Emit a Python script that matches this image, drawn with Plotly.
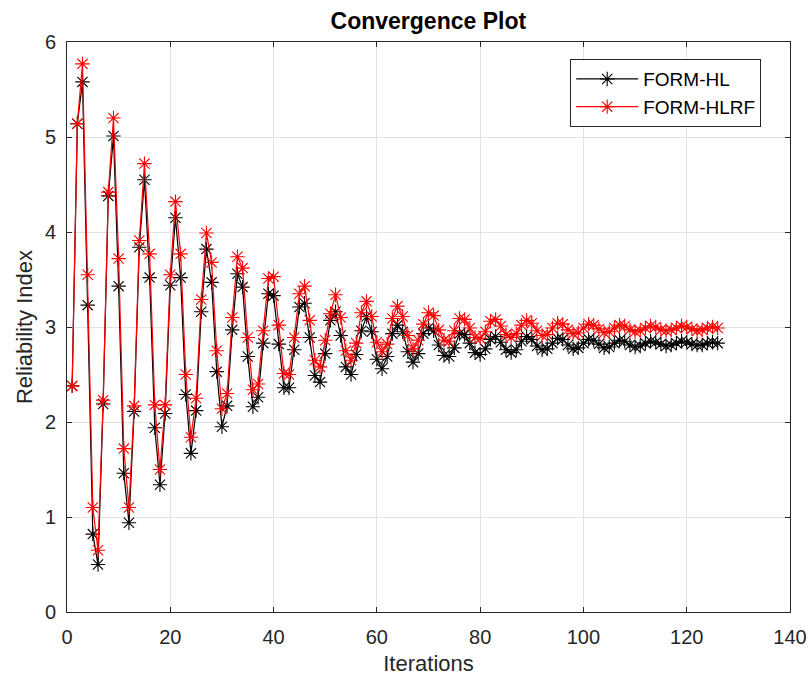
import plotly.graph_objects as go

iterations = list(range(1, 127))

form_hl = [
    2.38, 5.14, 5.58, 3.23, 0.82, 0.50, 2.19, 4.38, 5.01, 3.43,
    1.46, 0.94, 2.11, 3.84, 4.55, 3.52, 1.94, 1.34, 2.09, 3.44,
    4.15, 3.52, 2.29, 1.67, 2.12, 3.16, 3.82, 3.47, 2.53, 1.95,
    2.17, 2.97, 3.56, 3.42, 2.69, 2.16, 2.26, 2.83, 3.35, 3.33,
    2.82, 2.36, 2.36, 2.76, 3.21, 3.25, 2.89, 2.49, 2.42, 2.72,
    3.07, 3.16, 2.91, 2.58, 2.50, 2.71, 2.96, 3.11, 2.95, 2.66,
    2.56, 2.69, 2.93, 3.02, 2.95, 2.74, 2.63, 2.72, 2.93, 2.99,
    2.96, 2.81, 2.70, 2.69, 2.78, 2.93, 2.92, 2.83, 2.73, 2.71,
    2.77, 2.87, 2.90, 2.84, 2.76, 2.73, 2.76, 2.85, 2.90, 2.87,
    2.80, 2.76, 2.77, 2.83, 2.88, 2.87, 2.81, 2.77, 2.78, 2.83,
    2.87, 2.86, 2.82, 2.78, 2.79, 2.83, 2.86, 2.85, 2.81, 2.79,
    2.80, 2.83, 2.85, 2.84, 2.82, 2.80, 2.81, 2.83, 2.85, 2.84,
    2.82, 2.81, 2.81, 2.83, 2.84, 2.83,
]

form_hlrf = [
    2.38, 5.14, 5.77, 3.55, 1.10, 0.65, 2.23, 4.42, 5.20, 3.72,
    1.72, 1.10, 2.17, 3.91, 4.72, 3.77, 2.18, 1.50, 2.18, 3.55,
    4.32, 3.77, 2.50, 1.84, 2.25, 3.29, 3.99, 3.68, 2.75, 2.14,
    2.30, 3.10, 3.74, 3.62, 2.89, 2.34, 2.40, 2.96, 3.51, 3.53,
    3.02, 2.51, 2.50, 2.89, 3.35, 3.43, 3.07, 2.65, 2.58, 2.86,
    3.14, 3.34, 3.10, 2.75, 2.65, 2.83, 3.15, 3.27, 3.11, 2.84,
    2.74, 2.82, 3.09, 3.22, 3.11, 2.91, 2.77, 2.86, 3.03, 3.15,
    3.12, 2.97, 2.86, 2.85, 2.96, 3.09, 3.08, 2.99, 2.89, 2.88,
    2.95, 3.06, 3.08, 3.01, 2.92, 2.89, 2.93, 3.02, 3.07, 3.04,
    2.96, 2.91, 2.92, 2.99, 3.04, 3.03, 2.97, 2.93, 2.94, 2.99,
    3.03, 3.02, 2.98, 2.94, 2.95, 2.99, 3.02, 3.01, 2.97, 2.95,
    2.96, 2.99, 3.01, 3.00, 2.97, 2.96, 2.97, 2.99, 3.01, 3.00,
    2.98, 2.96, 2.97, 2.99, 3.00, 2.99,
]

x_ticks = [0, 20, 40, 60, 80, 100, 120, 140]
y_ticks = [0, 1, 2, 3, 4, 5, 6]

FONT = "Liberation Sans, Arial, sans-serif"
AX = "#262626"

fig = go.Figure()
fig.add_trace(go.Scatter(
    x=iterations, y=form_hl, name="FORM-HL", mode="lines+markers",
    line=dict(color="#000000", width=1.2),
    marker=dict(symbol="asterisk-open", size=12, color="#000000",
                line=dict(color="#000000", width=1.1)),
))
fig.add_trace(go.Scatter(
    x=iterations, y=form_hlrf, name="FORM-HLRF", mode="lines+markers",
    line=dict(color="#FF0000", width=1.2),
    marker=dict(symbol="asterisk-open", size=12, color="#FF0000",
                line=dict(color="#FF0000", width=1.1)),
))

fig.update_layout(
    width=812, height=679,
    margin=dict(l=67, r=22, t=42, b=67, autoexpand=False),
    paper_bgcolor="white", plot_bgcolor="white",
    font=dict(family=FONT, size=20, color=AX),
    title=dict(text="<b>Convergence Plot</b>", x=(66.7 + 790) / 2 / 812, xanchor="center",
               y=1 - 21 / 679, yanchor="middle",
               font=dict(family=FONT, size=23, color="#000000")),
    showlegend=True,
    legend=dict(x=0.696, y=0.97, xanchor="left", yanchor="top",
                bgcolor="white", bordercolor=AX, borderwidth=1,
                font=dict(family=FONT, size=19, color="#000000"),
                tracegroupgap=0, itemwidth=62),
    hovermode=False,
)
fig.update_xaxes(
    range=[0, 140], tickvals=x_ticks, ticktext=[str(v) for v in x_ticks],
    showgrid=True, gridcolor="#e3e3e3", gridwidth=1, automargin=False,
    showline=True, linecolor=AX, linewidth=1, mirror="ticks",
    ticks="inside", ticklen=5, tickcolor=AX, zeroline=False,
    tickfont=dict(family=FONT, size=20, color=AX), ticklabelstandoff=7,
    title=dict(text="Iterations", font=dict(family=FONT, size=22, color=AX), standoff=8),
)
fig.update_yaxes(
    range=[0, 6], tickvals=y_ticks, ticktext=[str(v) for v in y_ticks],
    showgrid=True, gridcolor="#e3e3e3", gridwidth=1, automargin=False,
    showline=True, linecolor=AX, linewidth=1, mirror="ticks",
    ticks="inside", ticklen=5, tickcolor=AX, zeroline=False,
    tickfont=dict(family=FONT, size=20, color=AX), ticklabelstandoff=6,
    title=dict(text="Reliability Index", font=dict(family=FONT, size=22, color=AX), standoff=6),
)

fig.write_html("out.html")
